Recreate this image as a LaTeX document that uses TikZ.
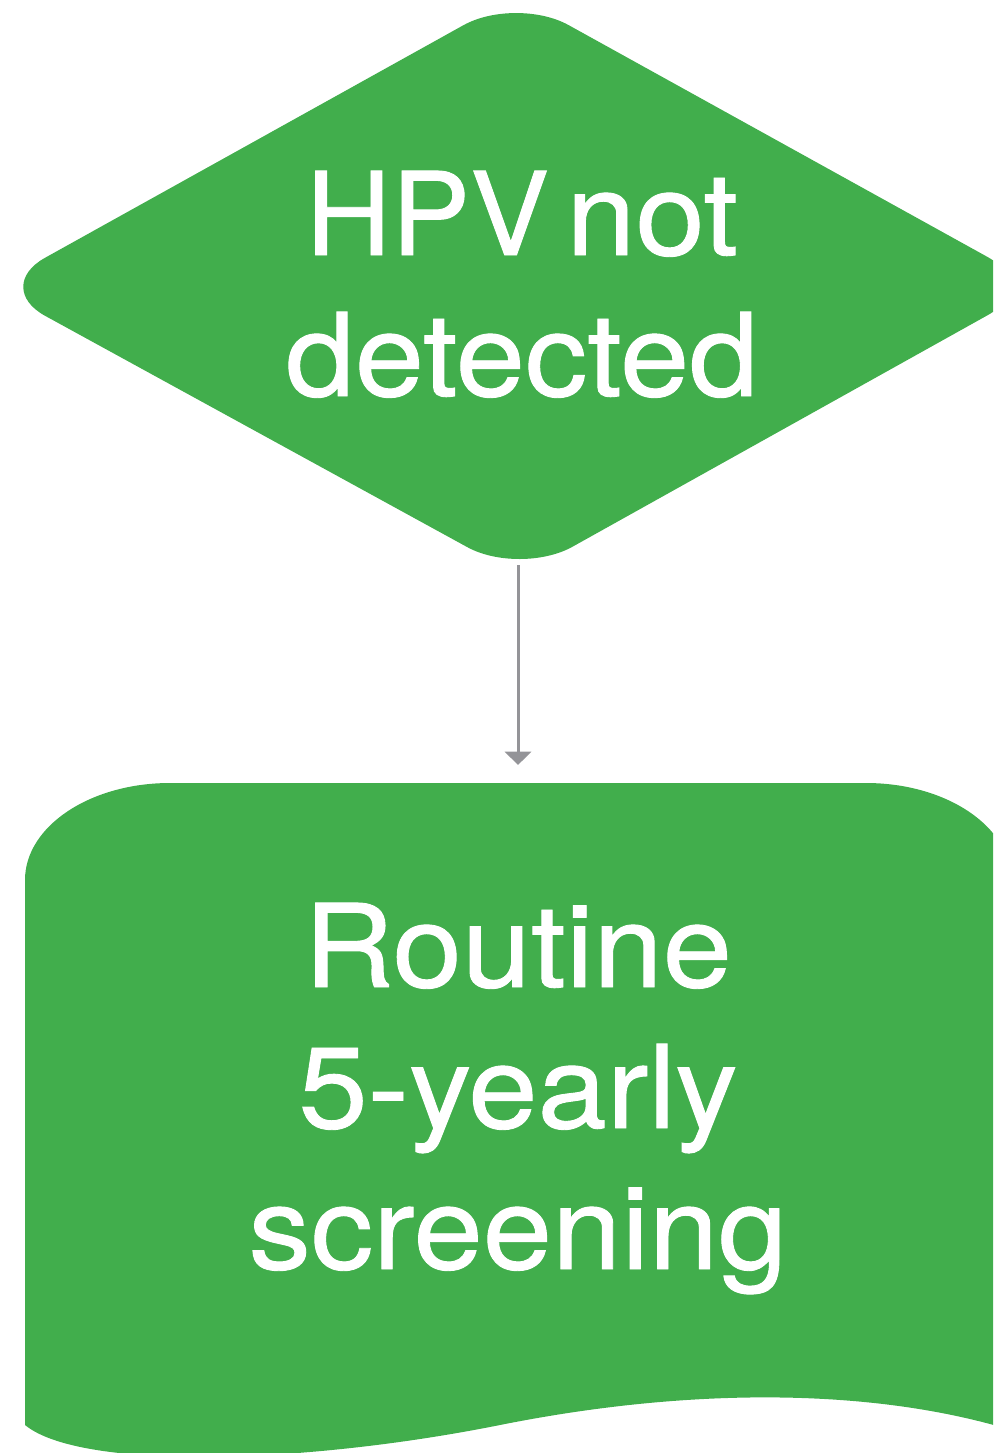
\documentclass[tikz,border=0pt]{standalone}
\usepackage{fontspec}
\setmainfont{TeX Gyre Heros}[FakeStretch=1.08,FakeBold=0.8]
\usetikzlibrary{arrows.meta}
\definecolor{boxgreen}{RGB}{65,174,76}
\definecolor{arrowgray}{RGB}{148,148,152}
\tikzset{
  shapefill/.style={fill=boxgreen, draw=none},
  label text/.style={text=white, align=center, inner sep=0pt, anchor=base,
    font=\fontsize{86.5pt}{105.75pt}\selectfont},
  flowarrow/.style={draw=arrowgray, line width=2.25pt,
    -{Triangle[width=19.5pt,length=10pt]}}
}
\begin{document}
\begin{tikzpicture}[x=0.75pt,y=-0.75pt]
\useasboundingbox (0,0) rectangle (993,1453);
\clip (0,0) rectangle (993,1453);
% decision diamond
\path[shapefill, rounded corners=45pt] (516,-4) -- (1040,286) -- (520,576) -- (-7.5,287) -- cycle;
\node[label text] (q) at (522,396) {\scalebox{0.95}[1]{HPV}\hspace{0.15em}not\\detected};
% document shape
\path[shapefill] (25,880) arc[start angle=180, end angle=90, x radius=145, y radius=-97]
  -- (866,783) arc[start angle=90, end angle=0, x radius=145, y radius=-97]
  -- (1011,1430) .. controls (880,1390) and (700,1385) .. (500,1425)
  .. controls (300,1465) and (80,1470) .. (25,1425) -- cycle;
\node[label text] (r) at (518,1269) {Routine\\5-yearly\\screening};
% connector
\coordinate (qb) at (518,565);
\coordinate (rt) at (518,765);
\draw[flowarrow] (qb) -- (rt);
\end{tikzpicture}
\end{document}
